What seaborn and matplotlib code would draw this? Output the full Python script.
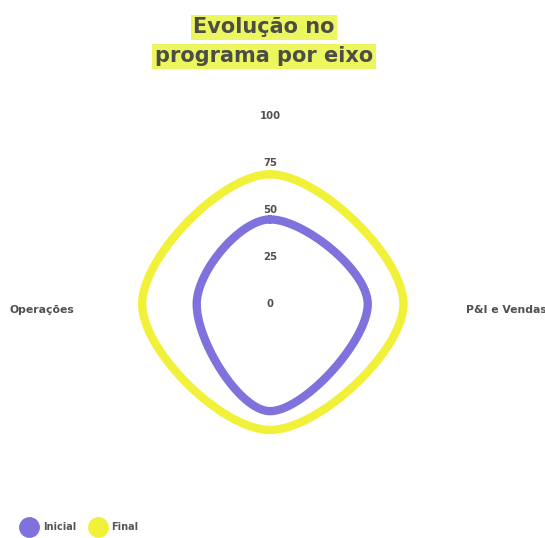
import numpy as np
import pandas as pd
import matplotlib
matplotlib.use("Agg")
import matplotlib.pyplot as plt
from matplotlib.lines import Line2D
import seaborn as sns

# ---- data ----
eixos = ["", "P&I e Vendas", "", "Operações"]   # clockwise from top
inicial = [45, 52, 57, 39]
final = [69, 71, 67, 68]
ticks = [0, 25, 50, 75, 100]
series_names = ["Inicial", "Final"]
colors = ["#7f72dc", "#f1f13a"]

sns.set_theme(style="white")
plt.rcParams['font.family'] = ['DejaVu Sans']


def spline(values, tension=0.37, n=60):
    k = len(values)
    ang = np.arange(k) * 2 * np.pi / k
    v = np.asarray(values, dtype=float)
    pts = np.column_stack([v * np.sin(ang), v * np.cos(ang)])
    cps = []
    for i in range(k):
        p0, p1, p2 = pts[i - 1], pts[i], pts[(i + 1) % k]
        d01 = np.linalg.norm(p1 - p0)
        d12 = np.linalg.norm(p2 - p1)
        s01 = d01 / (d01 + d12)
        s12 = d12 / (d01 + d12)
        cps.append((p1 - tension * s01 * (p2 - p0), p1 + tension * s12 * (p2 - p0)))
    t = np.linspace(0, 1, n, endpoint=False)[:, None]
    out = []
    for i in range(k):
        a, b = pts[i], cps[i][1]
        c, d = cps[(i + 1) % k][0], pts[(i + 1) % k]
        out.append((1 - t) ** 3 * a + 3 * (1 - t) ** 2 * t * b + 3 * (1 - t) * t ** 2 * c + t ** 3 * d)
    out.append(pts[:1])
    return np.vstack(out)


W, H = 545, 538
S = 1.88          # pixels per unit
cx, cy = 270, 304  # centre in pixels (from top)

fig = plt.figure(figsize=(W / 100, H / 100), dpi=100)
fig.patch.set_facecolor("white")
ax = fig.add_axes([0, 0, 1, 1])

frames = []
for name, vals in zip(series_names, [inicial, final]):
    xy = spline(vals)
    frames.append(pd.DataFrame({"x": xy[:, 0], "y": xy[:, 1],
                                "serie": name, "ordem": np.arange(len(xy))}))
df = pd.concat(frames, ignore_index=True)
for name, col in zip(series_names, colors):
    sub = df[df["serie"] == name]
    sns.lineplot(data=sub, x="x", y="y", sort=False, estimator=None, ax=ax,
                 color=col, linewidth=6.0, legend=False)
ax.set_xlim(-cx / S, (W - cx) / S)
ax.set_ylim(-(H - cy) / S, cy / S)
ax.axis("off")

# radial tick labels
for tv in ticks:
    ax.text(0, tv, str(tv), ha="center", va="center", fontsize=7.3,
            fontweight="bold", color="#505050")

# axis (point) labels
k = len(eixos)
for i, lab in enumerate(eixos):
    if not lab:
        continue
    a = i * 2 * np.pi / k
    r = 104
    x, y = r * np.sin(a), r * np.cos(a) - 3
    ha = "left" if np.sin(a) > 0.1 else ("right" if np.sin(a) < -0.1 else "center")
    ax.text(x, y, lab, ha=ha, va="center", fontsize=7.8, fontweight="bold",
            color="#505050", clip_on=False)

# title with highlight
for txt, ypx in [("Evolução no", 27), ("programa por eixo", 56)]:
    fig.text(264 / W, 1 - ypx / H, txt, ha="center", va="center", fontsize=15,
             fontweight="bold", color="#4d4d45",
             bbox=dict(boxstyle="square,pad=0.12", facecolor="#ecf760", edgecolor="none"))

# legend
handles = [Line2D([], [], marker="o", linestyle="", markersize=14,
                  markerfacecolor=c, markeredgecolor=c) for c in colors]
fig.legend(handles, series_names, loc="center left", bbox_to_anchor=(11 / W, 1 - 527 / H),
           ncol=2, frameon=False, handletextpad=0.4, columnspacing=1.2,
           labelcolor="#555555", prop={"weight": "bold", "size": 7})

fig.savefig("out.png", dpi=100, facecolor="white")
